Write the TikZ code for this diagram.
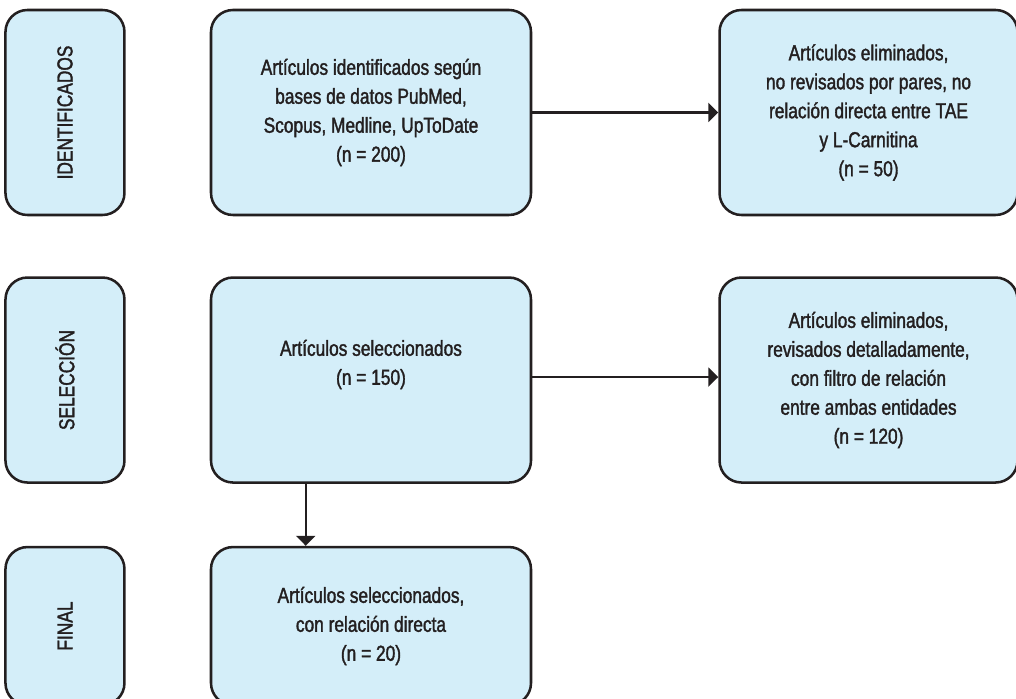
\documentclass[tikz,border=0pt]{standalone}
\usepackage{fontspec}
\setmainfont[FakeStretch=0.8,FakeBold=1.6]{Liberation Sans}
\usepackage{xcolor}
\definecolor{cLine}{HTML}{231F20}
\definecolor{cFill}{HTML}{D4EEF9}
\usepackage{tikz}
\usetikzlibrary{positioning,arrows.meta}
\tikzset{
  node-box/.style={draw=cLine,line width=1.8pt,fill=cFill,rounded corners=0.55cm,
    inner sep=0pt,align=center,text=cLine,
    font=\fontsize{15.4}{20.6}\selectfont},
  node-label/.style={node-box,minimum width=2.975cm,minimum height=5.125cm},
  node-mid/.style={node-box,minimum width=8cm,minimum height=5.125cm},
  node-out/.style={node-box,minimum width=7.45cm,minimum height=5.125cm},
  arrow/.style={-{Triangle[length=0.25cm,width=0.475cm]},line width=1.5pt,draw=cLine},
}
\begin{document}
\begin{tikzpicture}[node distance=1.5cm and 2.1cm]
  \useasboundingbox (0,0) rectangle (25.4,-17.475);
  % columna central
  \node[node-mid] (m1) at (9.275,-2.8125)
    {Artículos identificados según\\bases de datos PubMed,\\Scopus, Medline, UpToDate\\(n = 200)};
  \node[node-mid,below=of m1] (m2) {Artículos seleccionados\\(n = 150)\\[0.3em]};
  \node[node-mid,below=1.55cm of m2,minimum height=3.95cm] (m3)
    {Artículos seleccionados,\\con relación directa\\(n = 20)};
  % etapas
  \node[node-label,left=of m1] (l1) {\rotatebox{90}{IDENTIFICADOS}};
  \node[node-label,left=of m2] (l2) {\rotatebox{90}{SELECCIÓN}};
  \node[node-label,left=of m3,minimum height=3.95cm] (l3) {\rotatebox{90}{FINAL}};
  % eliminados
  \node[node-out,right=4.65cm of m1] (r1)
    {Artículos eliminados,\\no revisados por pares, no\\relación directa entre TAE\\y L-Carnitina\\(n = 50)};
  \node[node-out,right=4.65cm of m2] (r2)
    {Artículos eliminados,\\revisados detalladamente,\\con filtro de relación\\entre ambas entidades\\(n = 120)};
  \coordinate (d) at ([xshift=2.4cm]m2.south west);
  \draw[arrow] (m1.east) -- (r1.west);
  \draw[arrow] ([yshift=0.075cm]m2.east) -- ([yshift=0.075cm]r2.west);
  \draw[arrow] (d) -- (d |- m3.north);
\end{tikzpicture}
\end{document}
